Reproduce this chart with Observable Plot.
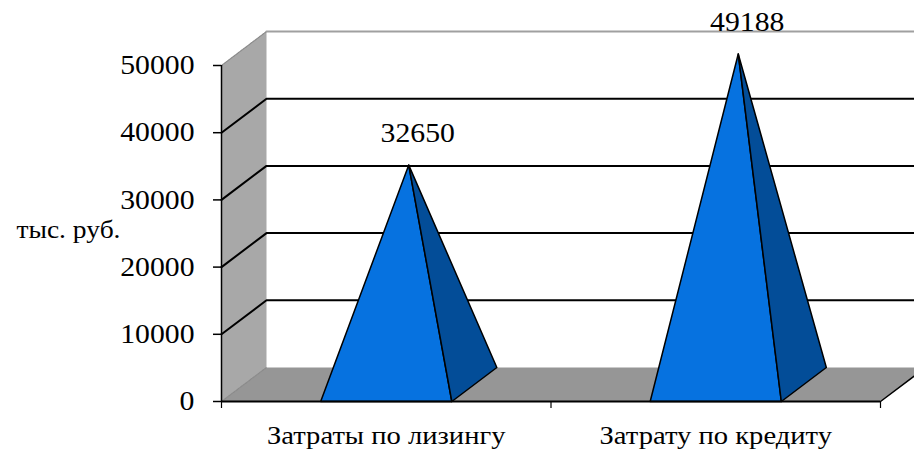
<!DOCTYPE html>
<html><head><meta charset="utf-8">
<script src="https://cdn.jsdelivr.net/npm/d3@7"></script>
<script src="https://cdn.jsdelivr.net/npm/@observablehq/plot@0.6"></script>
<style>
html,body{margin:0;padding:0;background:#fff;overflow:hidden}
</style>
</head><body><div id="chart"></div>
<script>
const categories = ["Затраты по лизингу", "Затрату по кредиту"];
const values = [32650, 49188];
const yTicks = [0, 10000, 20000, 30000, 40000, 50000];
const yUnit = "тыс. руб.";

// oblique 3D projection: depth fraction (0 = front, 1 = back wall) expressed in data units
const DEPTH_X = 0.1366;   // in category units
const DEPTH_Y = 5060;     // in value units
const HALF_BASE = 0.199;  // half of the pyramid base, in category units

const yMax = yTicks[yTicks.length - 1];
const nCat = categories.length;
const P = (u, v, d) => ({x: u + d * DEPTH_X, y: v + d * DEPTH_Y});
const poly = (id, pts) => [...pts, pts[0]].map(p => ({...p, id}));
const path = (id, pts) => pts.map(p => ({...p, id}));

const leftWall = poly("lw", [P(0, 0, 0), P(0, yMax, 0), P(0, yMax, 1), P(0, 0, 1)]);
const floorPoly = poly("fl", [P(0, 0, 0), P(nCat, 0, 0), P(nCat, 0, 1), P(0, 0, 1)]);
const gridLines = yTicks.slice(1, -1).flatMap(t => path(t, [P(0, t, 0), P(0, t, 1), P(nCat, t, 1)]));
const backTop = path("bt", [P(0, yMax, 1), P(nCat, yMax, 1)]);
const wallEdges = [...path("e1", [P(0, yMax, 0), P(0, yMax, 1)]), ...path("e2", [P(0, 0, 0), P(0, 0, 1)])];
const floorRight = path("fr", [P(nCat, 0, 0), P(nCat, 0, 1)]);

const fronts = values.flatMap((v, i) => {
  const c = i + 0.5;
  return poly("f" + i, [P(c - HALF_BASE, 0, 0), P(c + HALF_BASE, 0, 0), P(c, v, 0.5)]);
});
const sides = values.flatMap((v, i) => {
  const c = i + 0.5;
  return poly("s" + i, [P(c + HALF_BASE, 0, 0), P(c + HALF_BASE, 0, 1), P(c, v, 0.5)]);
});
const valueLabels = values.map((v, i) => ({x: i + 0.5 + 0.7 * DEPTH_X, y: v + DEPTH_Y, text: String(v)}));
const catLabels = categories.map((c, i) => ({x: i + 0.5, y: 0, text: c}));

const SERIF = "Liberation Serif";
const FS = 27;
const chart = Plot.plot({
  width: 914, height: 450,
  marginLeft: 221, marginRight: 34, marginTop: 65, marginBottom: 49,
  x: {domain: [0, nCat]},
  y: {domain: [0, yMax]},
  style: {fontFamily: "'Liberation Serif', serif", background: "white", color: "black"},
  marks: [
    Plot.line(leftWall, {x: "x", y: "y", z: "id", fill: "#a8a8a8", stroke: "none"}),
    Plot.line(floorPoly, {x: "x", y: "y", z: "id", fill: "#969696", stroke: "none"}),
    Plot.line(wallEdges, {x: "x", y: "y", z: "id", stroke: "#8a8a8a", strokeWidth: 1.2, strokeDasharray: "2,1"}),
    Plot.line(backTop, {x: "x", y: "y", z: "id", stroke: "#a0a0a0", strokeWidth: 2}),
    Plot.line(gridLines, {x: "x", y: "y", z: "id", stroke: "black", strokeWidth: 2, strokeLinejoin: "miter"}),
    Plot.line(floorRight, {x: "x", y: "y", z: "id", stroke: "black", strokeWidth: 1.5}),
    Plot.line(fronts, {x: "x", y: "y", z: "id", fill: "#0672e0", stroke: "black", strokeWidth: 1.5, strokeLinejoin: "round"}),
    Plot.line(sides, {x: "x", y: "y", z: "id", fill: "#034d98", stroke: "black", strokeWidth: 1.5, strokeLinejoin: "round"}),
    Plot.ruleX([0], {y1: 0, y2: yMax, stroke: "black", strokeWidth: 1.5}),
    Plot.ruleY([0], {x1: 0, x2: nCat, stroke: "black", strokeWidth: 2}),
    Plot.axisY(yTicks, {tickSize: 8, tickPadding: 19, fontSize: FS, fontFamily: SERIF, tickFormat: d => String(d), label: null, strokeWidth: 1.5}),
    Plot.axisX([0, 1, 2], {tickSize: 7, tickFormat: () => "", label: null, strokeWidth: 1.2}),
    Plot.text(valueLabels, {x: "x", y: "y", text: "text", dy: -6, lineAnchor: "bottom", fontSize: FS, fontFamily: SERIF, fill: "black"}),
    Plot.text(catLabels, {x: "x", y: "y", text: "text", dy: 42, lineAnchor: "bottom", fontSize: 26, fontFamily: SERIF, fill: "black"}),
    Plot.text([yUnit], {frameAnchor: "left", text: d => d, dx: -101, dy: 4, textAnchor: "end", lineAnchor: "bottom", fontSize: 25, fontFamily: SERIF, fill: "black"})
  ]
});
document.getElementById("chart").appendChild(chart);
// the reference's type is slightly wider than the font's natural width
chart.querySelectorAll("text").forEach(t => {
  if (!t.textContent) return;
  const len = t.getComputedTextLength();
  if (len > 0) {
    t.setAttribute("textLength", (len * 1.1).toFixed(1));
    t.setAttribute("lengthAdjust", "spacingAndGlyphs");
  }
});
</script>
</body></html>
